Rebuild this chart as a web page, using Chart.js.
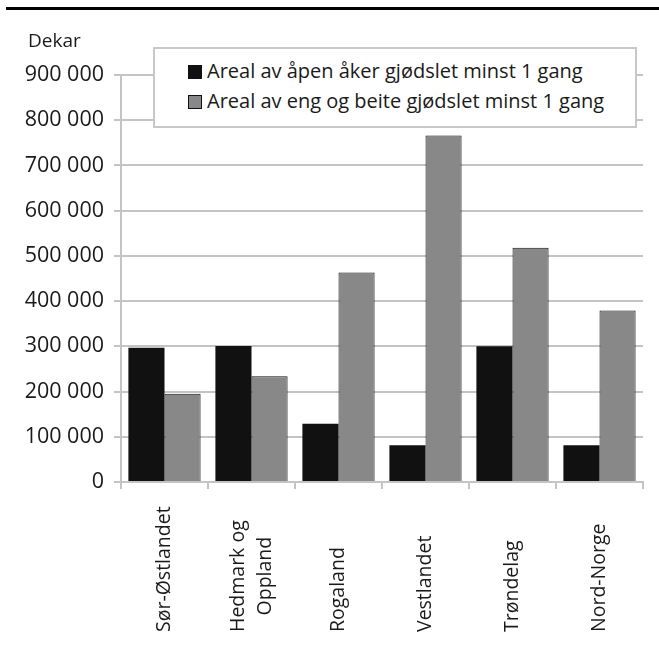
<!DOCTYPE html>
<html>
<head>
<meta charset="utf-8">
<script src="https://cdn.jsdelivr.net/npm/chart.js@4/dist/chart.umd.min.js"></script>
<style>
  body { margin: 0; background: #fff; font-family: 'Open Sans', sans-serif; color: #1a1a1a; }
  #wrap { position: relative; width: 659px; height: 651px; }
  #rule { position: absolute; left: 6px; top: 7px; width: 653px; height: 3px; background: #000; }
  #unit { position: absolute; left: 28px; top: 27px; font-size: 19px; }
  #legend {
    position: absolute; left: 153px; top: 47px; width: 480px; height: 70px;
    border: 2px solid #c8c8c8; background: #fff; font-size: 20px;
    padding-top: 7px; box-sizing: content-box;
  }
  #legend div { height: 30px; line-height: 30px; padding-left: 33px; white-space: nowrap; }
  #legend span.box {
    display: inline-block; width: 12px; height: 12px; margin-right: 5px;
    border: 1px solid #111; vertical-align: -1px;
  }
  canvas { position: absolute; left: 0; top: 0; }
</style>
</head>
<body>
<div id="wrap">
  <canvas id="chart" width="659" height="651"></canvas>
  <div id="rule"></div>
  <div id="unit">Dekar</div>
  <div id="legend"></div>
</div>
<script>
// regions (two-line label split by array)
const regions = ['Sør-Østlandet', ['Hedmark og', 'Oppland'], 'Rogaland', 'Vestlandet', 'Trøndelag', 'Nord-Norge'];
// dekar fertilised at least once
const openField = [297000, 301000, 129000, 81000, 300000, 81000];
const meadowPasture = [195000, 234000, 463000, 766000, 518000, 379000];
const yTicks = [0, 100000, 200000, 300000, 400000, 500000, 600000, 700000, 800000, 900000];

const seriesNames = ['Areal av åpen åker gjødslet minst 1 gang', 'Areal av eng og beite gjødslet minst 1 gang'];
const seriesColors = ['#111111', '#888888'];

const GRID = '#c4c4c4';
const FONT = "'Open Sans', sans-serif";

const fmt = v => String(v).replace(/\B(?=(\d{3})+(?!\d))/g, ' ');

// category names drawn rotated under the axis
const xLabels = {
  id: 'xLabels',
  afterDraw(chart) {
    const ctx = chart.ctx;
    const x = chart.scales.x;
    const base = x.bottom - 19;
    ctx.save();
    ctx.font = '19.5px ' + FONT;
    ctx.fillStyle = '#1a1a1a';
    ctx.textBaseline = 'middle';
    regions.forEach((label, i) => {
      const lines = Array.isArray(label) ? label : [label];
      const widest = Math.max(...lines.map(l => ctx.measureText(l).width));
      const cx = x.getPixelForValue(i);
      const lh = 27;
      lines.forEach((line, j) => {
        const off = (j - (lines.length - 1) / 2) * lh;
        ctx.save();
        ctx.translate(cx + off, base - widest / 2);
        ctx.rotate(-Math.PI / 2);
        ctx.textAlign = 'center';
        ctx.fillText(line, 0, 0);
        ctx.restore();
      });
    });
    ctx.restore();
  }
};

const chart = new Chart(document.getElementById('chart'), {
  type: 'bar',
  data: {
    labels: regions,
    datasets: [
      { label: seriesNames[0], data: openField, backgroundColor: seriesColors[0], borderColor: '#111', borderWidth: 0 },
      { label: seriesNames[1], data: meadowPasture, backgroundColor: seriesColors[1], borderColor: '#111', borderWidth: 1 }
    ]
  },
  options: {
    responsive: false,
    animation: false,
    events: [],
    layout: { padding: { top: 75, right: 16, left: 0, bottom: 0 } },
    datasets: { bar: { categoryPercentage: 0.83, barPercentage: 1 } },
    plugins: { legend: { display: false }, tooltip: { enabled: false } },
    scales: {
      x: {
        offset: true,
        grid: {
          offset: true,
          drawOnChartArea: true,
          color: c => (c.index === regions.length ? GRID : 'rgba(0,0,0,0)'),
          lineWidth: 2,
          tickColor: GRID,
          tickLength: 7
        },
        border: { color: GRID, width: 2 },
        ticks: { display: false },
        afterFit: s => { s.height = 169; }
      },
      y: {
        min: 0,
        max: 900000,
        afterBuildTicks: s => { s.ticks = yTicks.map(v => ({ value: v })); },
        grid: { color: GRID, lineWidth: 2, tickLength: 7, tickColor: GRID },
        border: { color: GRID, width: 2 },
        ticks: {
          padding: 10,
          color: '#1a1a1a',
          font: { family: FONT, size: 21.5 },
          callback: v => fmt(v)
        },
        afterFit: s => { s.width = 121; }
      }
    }
  },
  plugins: [xLabels]
});

// legend built from the datasets
const legend = document.getElementById('legend');
chart.data.datasets.forEach(ds => {
  const row = document.createElement('div');
  const box = document.createElement('span');
  box.className = 'box';
  box.style.background = ds.backgroundColor;
  row.appendChild(box);
  row.appendChild(document.createTextNode(ds.label));
  legend.appendChild(row);
});
</script>
</body>
</html>
